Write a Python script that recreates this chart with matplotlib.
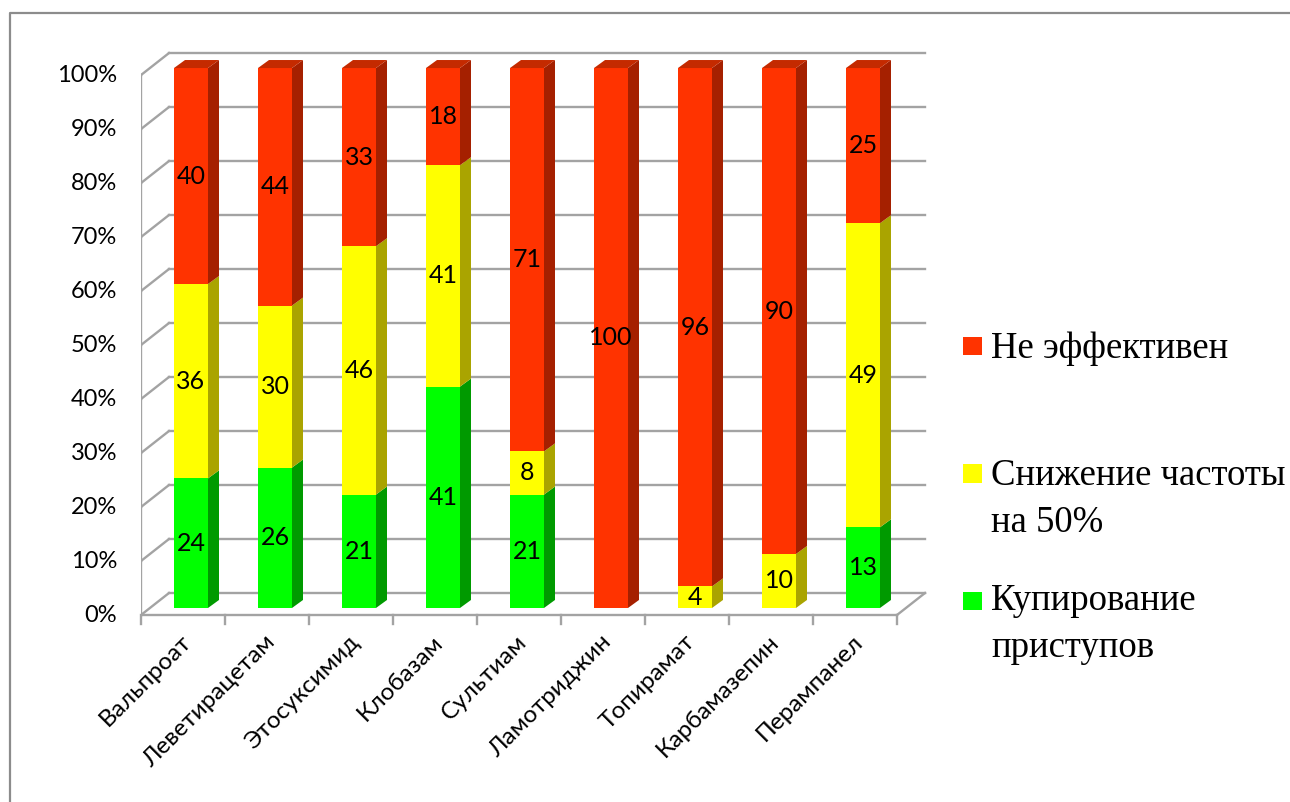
import matplotlib.pyplot as plt
from matplotlib.patches import Polygon, Rectangle
from matplotlib.lines import Line2D

drugs = ['Вальпроат', 'Леветирацетам', 'Этосуксимид', 'Клобазам', 'Сультиам',
         'Ламотриджин', 'Топирамат', 'Карбамазепин', 'Перампанел']
stopped = [24, 26, 21, 41, 21, 0, 0, 0, 13]        # Купирование приступов
reduced = [36, 30, 46, 41, 8, 0, 4, 10, 49]        # Снижение частоты на 50%
failed = [40, 44, 33, 18, 71, 100, 96, 90, 25]     # Не эффективен
series = [stopped, reduced, failed]
legend_lines = [['Не эффективен'], ['Снижение частоты', 'на 50%'], ['Купирование', 'приступов']]

front = ['#00ff00', '#ffff00', '#ff3300']
side = ['#009a00', '#aaa400', '#a52000']
top = ['#00c000', '#d4cc00', '#c42a00']

label_font = ['Lato', 'DejaVu Sans']
grid_col = '#a3a3a3'

# wall depth and bar depth, in data units (1 category = 84 px, 1% = 5.4 px)
DX, DY = 28 / 84, 22 / 5.4
SDX, SDY = 11 / 84, 8 / 5.4
BAR_W = 34 / 84
BAR_X = 33 / 84
BAR_Y = 1.3

fig = plt.figure(figsize=(12.9, 8.02), dpi=100)
ax = fig.add_axes([141 / 1290, (802 - 625.8) / 802, 9.5 * 84 / 1290, 0.7204])
ax.set_xlim(0, 9.5)
ax.set_ylim(-2, 105)
ax.axis('off')

n = len(drugs)

# back wall grid + side wall diagonals + floor
for v in range(0, 101, 10):
    ax.add_line(Line2D([DX, n + DX], [v + DY, v + DY], color=grid_col, lw=1.7, zorder=1))
    ax.add_line(Line2D([0, DX], [v, v + DY], color=grid_col, lw=1.7, zorder=1))
    ax.add_line(Line2D([-0.1, 0], [v, v], color=grid_col, lw=1.7, zorder=1))
    ax.text(-0.285, v, f'{v}%', ha='right', va='center', fontsize=17, family=label_font)
ax.add_line(Line2D([0, 0], [0, 100], color=grid_col, lw=1.7, zorder=1))
ax.add_line(Line2D([0, n], [0, 0], color=grid_col, lw=1.7, zorder=1))
ax.add_line(Line2D([n, n + DX], [0, DY], color=grid_col, lw=1.7, zorder=1))
for i in range(n + 1):
    ax.add_line(Line2D([i, i], [0, -1.6], color=grid_col, lw=1.7, zorder=1, clip_on=False))

for i in range(n):
    total = stopped[i] + reduced[i] + failed[i]
    bottom = 0.0
    xl = i + BAR_X
    xr = xl + BAR_W
    for k, vals in enumerate(series):
        val = vals[i]
        if val == 0:
            continue
        h = val / total * 100
        b = bottom + BAR_Y
        ax.bar(xl, h, bottom=b, width=BAR_W, align='edge', color=front[k],
               edgecolor='none', zorder=3)
        ax.add_patch(Polygon([(xr, b), (xr + SDX, b + SDY), (xr + SDX, b + h + SDY), (xr, b + h)],
                             closed=True, facecolor=side[k], edgecolor='none', zorder=3))
        bottom += h
        ax.text(xl + BAR_W / 2, b + h / 2, str(val), ha='center', va='center',
                fontsize=18, family=label_font, zorder=5)
    t = bottom + BAR_Y
    k_top = max(k for k in range(3) if series[k][i] > 0)
    ax.add_patch(Polygon([(xl, t), (xr, t), (xr + SDX, t + SDY), (xl + SDX, t + SDY)],
                         closed=True, facecolor=top[k_top], edgecolor='none', zorder=3))
    ax.text(i + 0.47, -3.0, drugs[i], rotation=45, rotation_mode='anchor', ha='right',
            va='top', fontsize=17.5, family=label_font)

# legend, drawn by hand in figure pixels
squares = [(337, 355), (464, 483), (592, 610)]
baselines = [[358], [485, 532], [610, 657]]
for k, (y0, y1) in zip([2, 1, 0], squares):
    fig.add_artist(Rectangle((963 / 1290, 1 - y1 / 802), 19 / 1290, (y1 - y0) / 802,
                             transform=fig.transFigure, facecolor=front[k], edgecolor='none'))
for lines, bls in zip(legend_lines, baselines):
    for s, bl in zip(lines, bls):
        fig.text(991 / 1290, 1 - bl / 802, s, ha='left', va='baseline', fontsize=26.5,
                 family=['Liberation Serif', 'DejaVu Serif'])

# chart area border (only top and left edges fall inside the image)
fig.add_artist(Line2D([10 / 1290, 10 / 1290, 1.01], [0, 1 - 13 / 802, 1 - 13 / 802],
                      transform=fig.transFigure, color='#8c8c8c', lw=1.6))

fig.savefig('out.png', dpi=100)
